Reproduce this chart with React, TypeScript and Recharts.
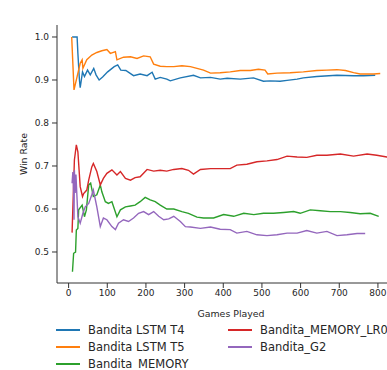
import { LineChart, Line, XAxis, YAxis } from 'recharts'

// [games played, running win rate]
const lstmT4: [number, number][] = [
  [9, 1.0], [22, 1.0], [24, 0.962], [28, 0.9], [30, 0.882], [36, 0.919], [41, 0.908],
  [49, 0.923], [56, 0.912], [65, 0.927], [71, 0.912], [79, 0.9], [88, 0.907],
  [101, 0.919], [118, 0.931], [127, 0.935], [135, 0.923], [148, 0.922], [168, 0.91],
  [185, 0.914], [203, 0.91], [216, 0.918], [224, 0.902], [237, 0.906], [254, 0.902],
  [263, 0.898], [289, 0.905], [323, 0.911], [341, 0.905], [367, 0.906], [392, 0.902],
  [410, 0.904], [444, 0.902], [478, 0.905], [504, 0.897], [521, 0.898], [547, 0.897],
  [565, 0.899], [591, 0.902], [607, 0.905], [642, 0.908], [694, 0.911], [737, 0.91],
  [763, 0.91], [793, 0.911],
]

const lstmT5: [number, number][] = [
  [8, 1.0], [14, 0.877], [22, 0.908], [30, 0.939], [35, 0.947], [37, 0.927], [47, 0.947],
  [60, 0.958], [73, 0.964], [86, 0.968], [99, 0.971], [108, 0.962], [121, 0.966],
  [125, 0.947], [142, 0.953], [160, 0.954], [177, 0.95], [194, 0.956], [211, 0.954],
  [220, 0.937], [237, 0.932], [254, 0.931], [272, 0.931], [293, 0.933], [315, 0.931],
  [332, 0.927], [349, 0.923], [367, 0.916], [392, 0.917], [418, 0.919], [444, 0.922],
  [470, 0.922], [491, 0.925], [508, 0.923], [515, 0.914], [539, 0.916], [573, 0.917],
  [607, 0.919], [642, 0.922], [668, 0.923], [694, 0.924], [716, 0.922], [737, 0.917],
  [754, 0.914], [789, 0.914], [806, 0.915],
]

const memory: [number, number][] = [
  [10, 0.454], [13, 0.497], [18, 0.5], [20, 0.551], [24, 0.555], [26, 0.598], [35, 0.609],
  [41, 0.582], [46, 0.598], [52, 0.656], [57, 0.66], [64, 0.629], [73, 0.633], [82, 0.656],
  [86, 0.64], [95, 0.617], [103, 0.613], [112, 0.617], [125, 0.582], [134, 0.598],
  [147, 0.605], [160, 0.607], [172, 0.609], [185, 0.617], [198, 0.627], [211, 0.621],
  [224, 0.617], [237, 0.609], [254, 0.6], [272, 0.6], [293, 0.594], [310, 0.59],
  [332, 0.581], [349, 0.579], [375, 0.579], [401, 0.587], [427, 0.583], [453, 0.59],
  [479, 0.587], [504, 0.59], [530, 0.59], [556, 0.592], [582, 0.594], [599, 0.59],
  [625, 0.598], [651, 0.596], [677, 0.594], [703, 0.594], [728, 0.592], [754, 0.589],
  [780, 0.59], [802, 0.583],
]

const memoryLr: [number, number][] = [
  [9, 0.545], [15, 0.714], [20, 0.749], [24, 0.733], [30, 0.652], [36, 0.629], [39, 0.636],
  [47, 0.644], [52, 0.667], [60, 0.698], [64, 0.706], [73, 0.687], [82, 0.656], [90, 0.671],
  [99, 0.683], [112, 0.691], [125, 0.679], [134, 0.687], [147, 0.671], [160, 0.667],
  [172, 0.673], [185, 0.675], [203, 0.692], [220, 0.688], [237, 0.69], [254, 0.688],
  [272, 0.692], [293, 0.694], [310, 0.69], [323, 0.681], [341, 0.692], [367, 0.694],
  [392, 0.694], [418, 0.694], [435, 0.702], [461, 0.704], [487, 0.71], [513, 0.712],
  [539, 0.715], [565, 0.723], [591, 0.721], [616, 0.72], [642, 0.725], [668, 0.725],
  [703, 0.728], [737, 0.723], [772, 0.728], [797, 0.725], [823, 0.721], [830, 0.72],
]

const g2: [number, number][] = [
  [9, 0.66], [11, 0.686], [13, 0.64], [14, 0.575], [15, 0.69], [17, 0.637], [19, 0.68],
  [21, 0.64], [24, 0.582], [30, 0.567], [37, 0.59], [43, 0.605], [52, 0.613], [60, 0.633],
  [64, 0.644], [73, 0.605], [82, 0.559], [90, 0.579], [99, 0.575], [112, 0.559],
  [121, 0.552], [129, 0.567], [142, 0.575], [155, 0.571], [168, 0.579], [181, 0.59],
  [194, 0.594], [207, 0.587], [220, 0.594], [233, 0.583], [246, 0.575], [259, 0.577],
  [272, 0.583], [289, 0.571], [302, 0.559], [315, 0.558], [341, 0.555], [367, 0.558],
  [392, 0.553], [418, 0.552], [435, 0.544], [461, 0.548], [487, 0.54], [513, 0.538],
  [539, 0.54], [565, 0.544], [591, 0.544], [616, 0.55], [642, 0.544], [668, 0.548],
  [694, 0.538], [720, 0.54], [746, 0.543], [767, 0.543],
]

const xTicks = [0, 100, 200, 300, 400, 500, 600, 700, 800]
const yTicks = [0.5, 0.6, 0.7, 0.8, 0.9, 1.0]

const series = [
  { name: 'Bandita LSTM T4', color: '#1f77b4', points: lstmT4 },
  { name: 'Bandita LSTM T5', color: '#ff7f0e', points: lstmT5 },
  { name: 'Bandita_MEMORY', color: '#2ca02c', points: memory },
  { name: 'Bandita_MEMORY_LR0', color: '#d62728', points: memoryLr },
  { name: 'Bandita_G2', color: '#9467bd', points: g2 },
]

const FONT = '"DejaVu Sans", sans-serif'
const INK = '#262626'
const tick = { fontSize: 9, fill: INK }

// legend cells: column x, row center y
const legendSlots = [
  [56, 330], [56, 347], [56, 364], [228, 330], [228, 347],
]

export default function App() {
  return (
    <div style={{
      position: 'absolute', left: 0, top: 0, width: 387, height: 370,
      overflow: 'hidden', background: '#fff', fontFamily: FONT,
    }}>
      <LineChart width={420} height={320}
        margin={{ top: 25, right: 15, left: 0, bottom: 0 }}>
        <XAxis
          dataKey="g" type="number" domain={[-30, 870]} ticks={xTicks}
          allowDataOverflow height={37}
          tick={tick} tickSize={5} tickMargin={2}
          axisLine={{ stroke: '#333' }} tickLine={{ stroke: '#333' }}
          label={{ value: 'Games Played', position: 'insideBottom', offset: 3, fontSize: 9.4, fill: INK }}
        />
        <XAxis
          xAxisId="top" orientation="top" type="number" domain={[-30, 870]}
          height={0} tick={false} tickLine={false} axisLine={{ stroke: '#333' }}
          label={{ value: 'Current Win Rate', position: 'top', offset: 6, fontSize: 10.8, fill: INK }}
        />
        <YAxis
          type="number" domain={[0.4279, 1.0279]} ticks={yTicks} allowDataOverflow
          width={57} tick={tick} tickSize={5} tickMargin={3}
          tickFormatter={(v: number) => v.toFixed(1)}
          axisLine={{ stroke: '#333' }} tickLine={{ stroke: '#333' }}
          label={{
            value: 'Win Rate', angle: -90, position: 'insideLeft', offset: 24,
            fontSize: 9.4, fill: INK, style: { textAnchor: 'middle' },
          }}
        />
        {series.map(s => (
          <Line
            key={s.name}
            data={s.points.map(([g, v]) => ({ g, v }))}
            dataKey="v" name={s.name} type="linear"
            stroke={s.color} strokeWidth={1.4} dot={false}
            isAnimationActive={false}
          />
        ))}
      </LineChart>
      {series.map((s, i) => {
        const [x, y] = legendSlots[i]
        return (
          <div key={s.name} style={{
            position: 'absolute', left: x, top: y - 9, height: 18,
            display: 'flex', alignItems: 'center', whiteSpace: 'nowrap',
            fontSize: 11.5, color: INK,
          }}>
            <span style={{ width: 24, height: 2, background: s.color, marginRight: 8 }} />
            <span>{s.name}</span>
          </div>
        )
      })}
    </div>
  )
}
